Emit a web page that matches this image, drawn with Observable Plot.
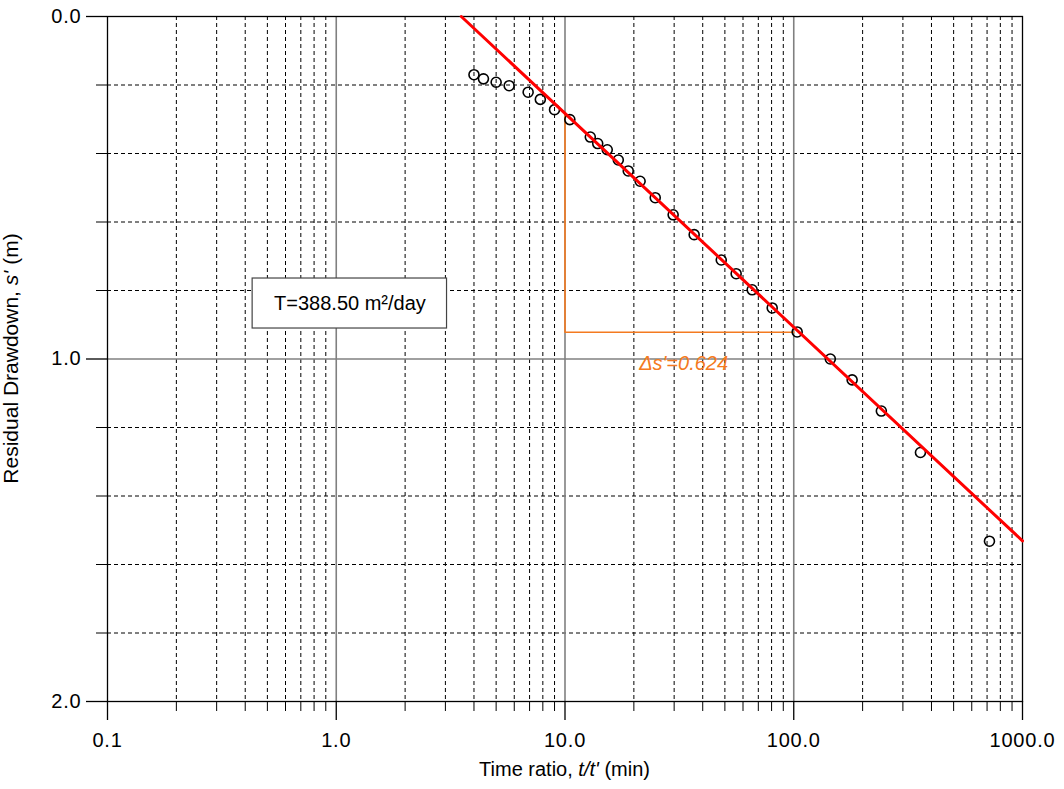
<!DOCTYPE html>
<html>
<head>
<meta charset="utf-8">
<script src="https://cdn.jsdelivr.net/npm/d3@7"></script>
<script src="https://cdn.jsdelivr.net/npm/@observablehq/plot@0.6"></script>
<style>
  html, body { margin: 0; padding: 0; background: white; }
  #chart { width: 1064px; height: 789px; }
</style>
</head>
<body>
<div id="chart"></div>
<script>
// ---- Data ----
const timeRatio = [4.0, 4.4, 5.0, 5.7, 6.9, 7.8, 9.0, 10.5, 12.9, 13.9, 15.3, 17.1, 18.9, 21.3, 24.8, 29.7, 36.7, 48.2, 56.0, 65.8, 80.5, 103.5, 144.5, 180, 241.5, 358, 717];
const drawdown  = [0.170, 0.182, 0.192, 0.202, 0.221, 0.242, 0.272, 0.301, 0.352, 0.371, 0.389, 0.419, 0.451, 0.481, 0.529, 0.579, 0.637, 0.711, 0.751, 0.798, 0.851, 0.921, 1.000, 1.061, 1.152, 1.273, 1.532];

// straight-line fit (end points)
const fitX = [3.52, 1000];
const fitS = [0.0, 1.531];

// slope triangle
const triX = [10, 10, 100];
const triS = [0.283, 0.922];

// tick values
const majorX = [0.1, 1, 10, 100, 1000];
const minorX = [0.2, 0.3, 0.4, 0.5, 0.6, 0.7, 0.8, 0.9,
                2, 3, 4, 5, 6, 7, 8, 9,
                20, 30, 40, 50, 60, 70, 80, 90,
                200, 300, 400, 500, 600, 700, 800, 900];
const majorY = [0, 1, 2];
const minorY = [0.2, 0.4, 0.6, 0.8, 1.2, 1.4, 1.6, 1.8];

// annotations
const tLabel = "T=388.50 m\u00B2/day";
const tBox = {x1: 0.431, x2: 3.05, y1: 0.765, y2: 0.911, tx: 1.148, ty: 0.838};
const dsLabel = "\u0394s'=0.624";
const dsPos = {x: 33.0, y: 1.013};

// ---- Build tables ----
const points = timeRatio.map((t, i) => ({t, s: drawdown[i]}));
const fitLine = fitX.map((t, i) => ({t, s: fitS[i]}));
const triangle = [
  {t: triX[0], s: triS[0]},
  {t: triX[1], s: triS[1]},
  {t: triX[2], s: triS[1]}
];

const FONT = "'Liberation Sans', Arial, Helvetica, sans-serif";
const ORANGE = "#f47a20";

const chart = Plot.plot({
  width: 1064,
  height: 789,
  marginLeft: 107,
  marginRight: 42,
  marginTop: 16,
  marginBottom: 88,
  style: {fontFamily: FONT, fontSize: "20px", background: "white", color: "black"},
  x: {type: "log", domain: [0.1, 1000]},
  y: {domain: [0, 2], reverse: true},
  marks: [
    // minor grid
    Plot.ruleX(minorX, {stroke: "#000", strokeWidth: 1, strokeDasharray: "4,3"}),
    Plot.ruleY(minorY, {stroke: "#000", strokeWidth: 1, strokeDasharray: "4,3"}),
    // major grid
    Plot.ruleX(majorX.slice(1, -1), {stroke: "#808080", strokeWidth: 1.6}),
    Plot.ruleY([1], {stroke: "#808080", strokeWidth: 1.6}),
    // frame
    Plot.frame({stroke: "black", strokeWidth: 1.3}),
    // axes
    Plot.axisX(majorX, {tickSize: 19, tickPadding: 12, tickFormat: d => d.toFixed(1), fontSize: 20, label: null, strokeWidth: 1.3}),
    Plot.axisX(minorX, {tickSize: 10, tickFormat: () => "", label: null}),
    Plot.axisY(majorY, {tickSize: 21, tickPadding: 5, tickFormat: d => d.toFixed(1), fontSize: 20, label: null, strokeWidth: 1.3}),
    Plot.axisY(minorY, {tickSize: 11, tickFormat: () => "", label: null}),
    // T box
    Plot.rect([tBox], {x1: "x1", x2: "x2", y1: "y1", y2: "y2", fill: "white", stroke: "#444", strokeWidth: 1.2}),
    Plot.text([tBox], {x: "tx", y: "ty", text: () => tLabel, fontSize: 20, fill: "black", textAnchor: "middle", lineAnchor: "middle"}),
    // slope triangle
    Plot.line(triangle, {x: "t", y: "s", stroke: ORANGE, strokeWidth: 1.6}),
    Plot.text([dsPos], {x: "x", y: "y", text: () => dsLabel, fill: ORANGE, fontSize: 20, fontStyle: "italic", textAnchor: "middle", lineAnchor: "middle"}),
    // data
    Plot.dot(points, {x: "t", y: "s", r: 5, stroke: "black", strokeWidth: 1.6, fill: "none"}),
    Plot.line(fitLine, {x: "t", y: "s", stroke: "#ff0000", strokeWidth: 3})
  ]
});

document.getElementById("chart").appendChild(chart);

const svg = d3.select(chart);
// slightly wider tick labels, as in the reference
svg.selectAll('g[aria-label="x-axis tick label"] text, g[aria-label="y-axis tick label"] text')
  .attr("letter-spacing", "0.8px");

// axis titles with italic parts
const ys = chart.scale("y");
const cx = (107 + (1064 - 42)) / 2;

const xt = svg.append("text")
  .attr("x", cx).attr("y", 776)
  .attr("text-anchor", "middle")
  .attr("font-family", FONT).attr("font-size", 20).attr("fill", "black");
xt.append("tspan").text("Time ratio, ");
xt.append("tspan").attr("font-style", "italic").text("t/t'");
xt.append("tspan").text(" (m" + "in)");

const yt = svg.append("text")
  .attr("transform", `translate(17.5, ${ys.apply(1)}) rotate(-90)`)
  .attr("text-anchor", "middle")
  .attr("font-family", FONT).attr("font-size", 21).attr("fill", "black");
yt.append("tspan").text("Residual Drawdown, ");
yt.append("tspan").attr("font-style", "italic").text("s'");
yt.append("tspan").text(" (m)");
</script>
</body>
</html>
